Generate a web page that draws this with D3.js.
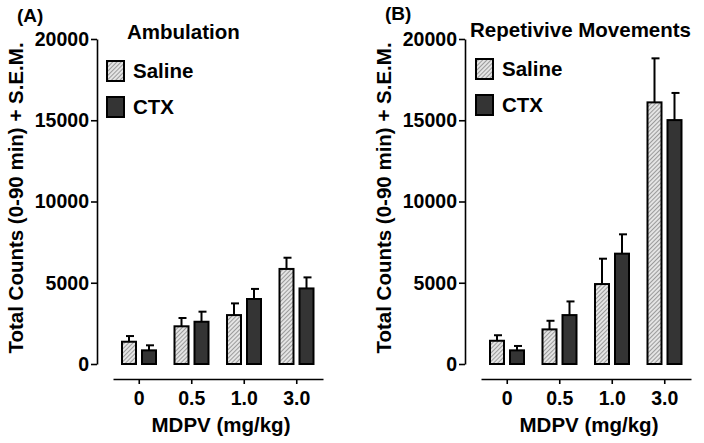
<!DOCTYPE html>
<html>
<head>
<meta charset="utf-8">
<script src="https://cdn.jsdelivr.net/npm/d3@7"></script>
<style>
  html, body { margin: 0; padding: 0; background: #fff; }
  svg { display: block; font-family: "Liberation Sans", Arial, sans-serif; font-weight: bold; }
</style>
</head>
<body>
<svg id="chart" width="704" height="443"></svg>
<script>
const doses = ["0", "0.5", "1.0", "3.0"];
const groups = ["Saline", "CTX"];
const yTicks = [0, 5000, 10000, 15000, 20000];

const ambSaline = [1370, 2320, 3010, 5850];
const ambSalineSem = [350, 510, 720, 690];
const ambCTX = [840, 2600, 4000, 4650];
const ambCTXSem = [310, 620, 620, 680];

const repSaline = [1430, 2130, 4920, 16100];
const repSalineSem = [340, 530, 1560, 2710];
const repCTX = [840, 3010, 6790, 15010];
const repCTXSem = [270, 840, 1190, 1670];

const panels = [
  { label: "(A)", title: "Ambulation", saline: ambSaline, salineSem: ambSalineSem, ctx: ambCTX, ctxSem: ambCTXSem, dx: 0, titleX: 127, titleY: 39, labelY: 22, legY: 61, legBoxX: 107 },
  { label: "(B)", title: "Repetivive Movements", saline: repSaline, salineSem: repSalineSem, ctx: repCTX, ctxSem: repCTXSem, dx: 368, titleX: 102, titleY: 37, labelY: 20, legY: 59, legBoxX: 108 }
];

const svg = d3.select("#chart");
const defs = svg.append("defs");
const pat = defs.append("pattern").attr("id", "hatch").attr("patternUnits", "userSpaceOnUse")
  .attr("width", 3).attr("height", 3).attr("patternTransform", "rotate(45)");
pat.append("rect").attr("width", 3).attr("height", 3).attr("fill", "#e4e4e4");
pat.append("line").attr("x1", 0).attr("y1", 0).attr("x2", 0).attr("y2", 3)
  .attr("stroke", "#6a6a6a").attr("stroke-width", 1.2);

const y = d3.scaleLinear().domain([0, 20000]).range([364, 39]);
const x = d3.scaleBand().domain(doses).range([113, 323]).padding(0);
const xi = d3.scaleBand().domain(groups).range([9, 43]).paddingInner(0.3);
const fills = { Saline: "url(#hatch)", CTX: "#343434" };

panels.forEach(p => {
  const g = svg.append("g").attr("transform", `translate(${p.dx},0)`);

  // y axis
  const ya = g.append("g").attr("transform", "translate(97,0)")
    .call(d3.axisLeft(y).tickValues(yTicks).tickSize(6).tickSizeOuter(0).tickPadding(2).tickFormat(d3.format("d")));
  ya.select(".domain").attr("stroke", "#000").attr("stroke-width", 1.6);
  ya.selectAll(".tick line").attr("stroke", "#000").attr("stroke-width", 1.6);
  ya.selectAll(".tick text").attr("font-size", 19.5).attr("font-weight", "bold").attr("fill", "#000")
    .attr("font-family", "Liberation Sans, Arial, sans-serif");

  // x axis
  const xa = g.append("g").attr("transform", "translate(0,379)")
    .call(d3.axisBottom(x).tickSize(5).tickSizeOuter(0).tickPadding(7));
  xa.select(".domain").attr("stroke", "#000").attr("stroke-width", 1.6);
  xa.selectAll(".tick line").attr("stroke", "#000").attr("stroke-width", 1.6);
  xa.selectAll(".tick text").attr("font-size", 19.5).attr("font-weight", "bold").attr("fill", "#000")
    .attr("font-family", "Liberation Sans, Arial, sans-serif");

  // bars
  const rows = [];
  doses.forEach((d, i) => {
    rows.push({ dose: d, grp: "Saline", v: p.saline[i], e: p.salineSem[i] });
    rows.push({ dose: d, grp: "CTX", v: p.ctx[i], e: p.ctxSem[i] });
  });
  const bw = xi.bandwidth();
  // error bars (upward only)
  g.selectAll(".err").data(rows).enter().append("line")
    .attr("x1", d => x(d.dose) + xi(d.grp) + bw / 2)
    .attr("x2", d => x(d.dose) + xi(d.grp) + bw / 2)
    .attr("y1", d => y(d.v)).attr("y2", d => y(d.v + d.e))
    .attr("stroke", "#000").attr("stroke-width", 2);
  g.selectAll(".cap").data(rows).enter().append("line")
    .attr("x1", d => x(d.dose) + xi(d.grp) + bw / 2 - 3)
    .attr("x2", d => x(d.dose) + xi(d.grp) + bw / 2 + 5)
    .attr("y1", d => y(d.v + d.e)).attr("y2", d => y(d.v + d.e))
    .attr("stroke", "#000").attr("stroke-width", 2);
  g.selectAll(".bar").data(rows).enter().append("rect")
    .attr("x", d => x(d.dose) + xi(d.grp))
    .attr("y", d => y(d.v))
    .attr("width", bw)
    .attr("height", d => y(0) - y(d.v))
    .attr("fill", d => fills[d.grp])
    .attr("stroke", "#000").attr("stroke-width", 2);

  // legend
  groups.forEach((grp, i) => {
    const ly = p.legY + i * 36;
    g.append("rect").attr("x", p.legBoxX).attr("y", ly).attr("width", 17).attr("height", 20)
      .attr("fill", fills[grp]).attr("stroke", "#000").attr("stroke-width", 2);
    g.append("text").attr("x", p.legBoxX + 26).attr("y", ly + 17).attr("font-size", 20.5).attr("fill", "#000")
      .text(grp);
  });

  // titles
  g.append("text").attr("x", p.titleX).attr("y", p.titleY).attr("font-size", 20.5).attr("fill", "#000").text(p.title);
  g.append("text").attr("x", 17).attr("y", p.labelY).attr("font-size", 19).attr("fill", "#000").text(p.label);

  // axis labels
  g.append("text").attr("transform", "translate(23,198) rotate(-90)").attr("text-anchor", "middle")
    .attr("font-size", 20.5).attr("fill", "#000").text("Total Counts (0-90 min) + S.E.M.");
  g.append("text").attr("x", 221).attr("y", 432).attr("text-anchor", "middle")
    .attr("font-size", 20.5).attr("fill", "#000").text("MDPV (mg/kg)");
});
</script>
</body>
</html>
